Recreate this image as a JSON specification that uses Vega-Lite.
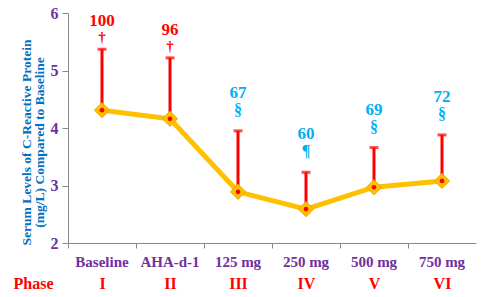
{
  "$schema": "https://vega.github.io/schema/vega-lite/v6.json",
  "width": 408,
  "height": 230,
  "autosize": {"type": "none"},
  "padding": {"left": 68, "top": 13, "right": 13, "bottom": 54},
  "background": "white",
  "config": {
    "view": {"stroke": null},
    "font": "Liberation Serif"
  },
  "data": {
    "values": [
      {"cat": "Baseline", "phase": "I", "mean": 4.31, "upper": 5.37, "num": "100", "sym": "†", "grp": "red"},
      {"cat": "AHA-d-1", "phase": "II", "mean": 4.16, "upper": 5.22, "num": "96", "sym": "†", "grp": "red"},
      {"cat": "125 mg", "phase": "III", "mean": 2.89, "upper": 3.95, "num": "67", "sym": "§", "grp": "cyan"},
      {"cat": "250 mg", "phase": "IV", "mean": 2.59, "upper": 3.23, "num": "60", "sym": "¶", "grp": "cyan"},
      {"cat": "500 mg", "phase": "V", "mean": 2.97, "upper": 3.66, "num": "69", "sym": "§", "grp": "cyan"},
      {"cat": "750 mg", "phase": "VI", "mean": 3.08, "upper": 3.88, "num": "72", "sym": "§", "grp": "cyan"}
    ]
  },
  "encoding": {
    "y": {
      "field": "mean", "type": "quantitative",
      "scale": {"domain": [2, 6], "nice": false, "zero": false},
      "axis": {
        "values": [2, 3, 4, 5, 6],
        "title": ["Serum Levels of C-Reactive  Protein", "(mg/L)  Compared  to Baseline"],
        "titleColor": "#0070C0", "titleFont": "Liberation Serif", "titleFontWeight": "bold", "titleFontSize": 13.5,
        "titlePadding": 4, "titleLineHeight": 13, "titleY": 129,
        "labelColor": "#7030A0", "labelFont": "Liberation Serif", "labelFontWeight": "bold", "labelFontSize": 16,
        "labelPadding": 4, "tickSize": 6, "tickColor": "#888888", "domainColor": "#888888", "grid": false
      }
    }
  },
  "layer": [
    {
      "encoding": {
        "x": {
          "field": "cat", "type": "nominal", "sort": null,
          "scale": {"domain": ["Baseline", "AHA-d-1", "125 mg", "250 mg", "500 mg", "750 mg"], "paddingInner": 0, "paddingOuter": 0},
          "axis": {
            "title": null, "labelAngle": 0, "bandPosition": 0,
            "labelColor": "#7030A0", "labelFont": "Liberation Serif", "labelFontWeight": "bold", "labelFontSize": 15,
            "labelPadding": 6, "tickSize": 5, "tickColor": "#888888", "domainColor": "#888888", "grid": false
          }
        }
      },
      "layer": [
        {
          "mark": {"type": "rule", "color": "#FF0000", "strokeWidth": 3},
          "encoding": {"y2": {"field": "upper"}}
        },
        {
          "mark": {"type": "tick", "color": "#FF0000", "thickness": 3, "size": 9, "orient": "horizontal"},
          "encoding": {"y": {"field": "upper", "type": "quantitative"}}
        },
        {
          "mark": {"type": "line", "color": "#FFC000", "strokeWidth": 5}
        },
        {
          "mark": {"type": "point", "shape": "diamond", "filled": true, "fill": "#FFC000", "stroke": "#E8A800", "strokeWidth": 1, "size": 230, "opacity": 1}
        },
        {
          "mark": {"type": "point", "shape": "circle", "filled": true, "color": "#FF0000", "size": 22, "opacity": 1}
        },
        {
          "transform": [{"filter": "datum.grp === 'red'"}],
          "mark": {"type": "text", "color": "#FF0000", "font": "Liberation Serif", "fontWeight": "bold", "fontSize": 17, "baseline": "middle", "dy": -28},
          "encoding": {"y": {"field": "upper", "type": "quantitative"}, "text": {"field": "num"}}
        },
        {
          "transform": [{"filter": "datum.grp === 'red'"}],
          "mark": {"type": "text", "color": "#FF0000", "font": "Liberation Serif", "fontWeight": "bold", "fontSize": 15, "baseline": "middle", "dy": -12},
          "encoding": {"y": {"field": "upper", "type": "quantitative"}, "text": {"field": "sym"}}
        },
        {
          "transform": [{"filter": "datum.grp === 'cyan'"}],
          "mark": {"type": "text", "color": "#00B0F0", "font": "Liberation Serif", "fontWeight": "bold", "fontSize": 17, "baseline": "middle", "dy": -38},
          "encoding": {"y": {"field": "upper", "type": "quantitative"}, "text": {"field": "num"}}
        },
        {
          "transform": [{"filter": "datum.grp === 'cyan'"}],
          "mark": {"type": "text", "color": "#00B0F0", "font": "Liberation Serif", "fontWeight": "bold", "fontSize": 16, "baseline": "middle", "dy": -21},
          "encoding": {"y": {"field": "upper", "type": "quantitative"}, "text": {"field": "sym"}}
        }
      ]
    },
    {
      "mark": {"type": "point", "opacity": 0},
      "encoding": {
        "x": {
          "field": "phase", "type": "nominal", "sort": null,
          "scale": {"paddingInner": 0, "paddingOuter": 0},
          "axis": {
            "orient": "bottom", "title": "Phase", "labelAngle": 0,
            "labelColor": "#FF0000", "labelFont": "Liberation Serif", "labelFontWeight": "bold", "labelFontSize": 16,
            "labelPadding": 32, "ticks": false, "domain": false, "grid": false,
            "titleColor": "#FF0000", "titleFont": "Liberation Serif", "titleFontWeight": "bold", "titleFontSize": 16,
            "titleAngle": 0, "titleAlign": "center", "titleBaseline": "middle", "titleX": -35, "titleY": 40
          }
        }
      }
    }
  ],
  "resolve": {"scale": {"x": "independent"}}
}
